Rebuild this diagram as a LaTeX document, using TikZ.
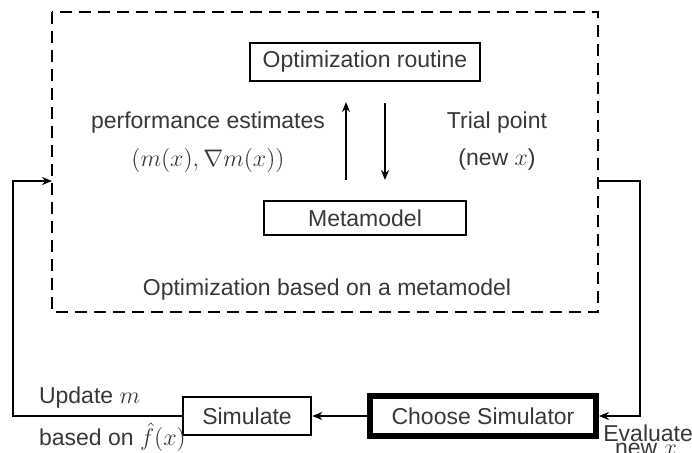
\documentclass[tikz,border=0pt]{standalone}
\usepackage{amsmath}
\usepackage{fontspec}
\setmainfont{Liberation Sans}
\usepackage{tikz}
\usetikzlibrary{arrows.meta}
\definecolor{txtgray}{gray}{0.22}
\tikzset{>/.tip={Stealth[length=5pt,width=4pt]},
  every node/.style={text=txtgray, font=\fontsize{11.5}{13.8}\selectfont},
  box/.style={draw=black, line width=1.3pt, minimum height=19pt, inner xsep=6pt},
  heavybox/.style={draw=black, line width=3pt, minimum height=20pt, inner xsep=8pt},
  conn/.style={draw=black, line width=1.4pt}}

\begin{document}
\begin{tikzpicture}[x=0.5pt, y=-0.5pt]
\useasboundingbox (0,0) rectangle (692,452);
\draw[line width=1.1pt, dash pattern=on 6pt off 3.5pt] (52,12) rectangle (598,312);
\coordinate (inL) at (52,181);
\coordinate (inR) at (598,181);

\node[box, minimum width=115pt] (opt) at (365,62) {Optimization routine};
\node[box, minimum width=101pt, minimum height=17pt] (meta) at (365,218) {Metamodel};
\node (perf) at (208,123) {performance estimates};
\node (grad) at (208,160) {$(m(x), \nabla m(x))$};
\node (trial) at (497,123) {Trial point};
\node (newx) at (497,160) {(new $x$)};
\node (based) at (327,290) {Optimization based on a metamodel};

\node[heavybox, minimum width=113pt] (choose) at (483,416) {Choose Simulator};
\node[box, minimum width=64pt] (sim) at (247,416) {Simulate};
\node[anchor=west] (upd) at (32,398) {Update $m$};
\node[anchor=west] (bon) at (32,437) {based on $\hat{f}(x)$};
\node[anchor=west, inner sep=1pt] (eval) at (601,433) {Evaluate};
\node[inner sep=1pt] (evalx) at (646,449) {new $x$};

\draw[conn, ->] (346,180) -- (346,102);
\draw[conn, ->] (385,103) -- (385,180);
\draw[conn, ->] (inR) -- (640,181) |- (choose.east);
\draw[conn, ->] (choose.west) -- (sim.east);
\draw[conn, ->] (sim.west) -- (13,416) |- (inL);
\end{tikzpicture}
\end{document}
